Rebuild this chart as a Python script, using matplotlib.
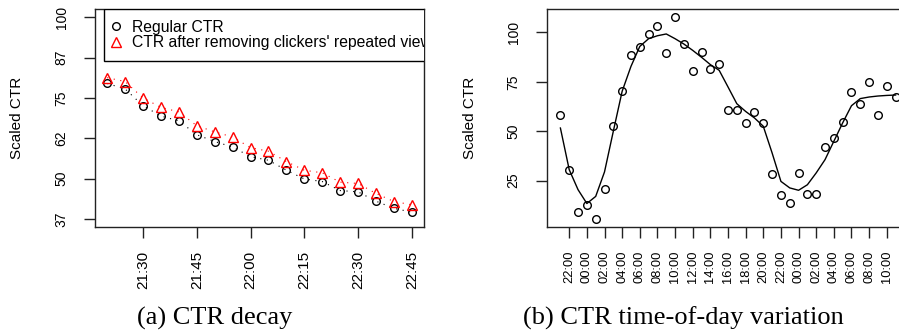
import numpy as np
import matplotlib
matplotlib.use("Agg")
import matplotlib.pyplot as plt

plt.rcParams['font.family'] = ['Liberation Sans', 'DejaVu Sans']

# (a) CTR decay: minutes after 21:00, one sample every 5 minutes
decay_minutes = [20, 25, 30, 35, 40, 45, 50, 55, 60, 65, 70, 75, 80, 85, 90, 95, 100, 105]
regular_ctr = [79.5, 77.8, 72.6, 69.4, 67.9, 63.6, 61.5, 59.8, 56.8, 55.7,
               52.6, 49.9, 49.1, 46.3, 45.9, 43.0, 40.8, 39.6]
removed_ctr = [81.3, 80.1, 75.0, 72.1, 70.7, 66.4, 64.5, 62.9, 59.6, 58.5,
               55.3, 52.6, 51.8, 48.9, 48.5, 45.4, 42.9, 41.9]
decay_ticks = [30, 45, 60, 75, 90, 105]
decay_labels = ['21:30', '21:45', '22:00', '22:15', '22:30', '22:45']
decay_yticks = [37.5, 50, 62.5, 75, 87.5, 100]
decay_ylabels = ['37', '50', '62', '75', '87', '100']

# (b) time-of-day: hours after 22:00 on day one
tod_hours = list(range(-1, 38))
tod_ctr = [58.4, 30.6, 9.3, 12.7, 5.6, 20.9, 52.8, 70.5, 88.4, 92.8,
           99.2, 103.0, 89.6, 107.6, 94.1, 80.6, 89.9, 81.5, 84.0, 60.7,
           60.7, 54.2, 59.7, 54.0, 28.2, 17.7, 13.7, 29.0, 18.1, 18.1,
           42.2, 46.6, 54.6, 69.8, 63.9, 74.7, 58.2, 73.0, 67.5]
tod_smooth = [51.6, 30.5, 20.4, 13.4, 17.0, 29.4, 50.0, 70.2, 82.8, 92.9,
              96.8, 98.3, 99.2, 96.8, 94.1, 90.9, 87.4, 83.7, 80.8, 72.4,
              63.9, 60.0, 56.7, 52.5, 39.0, 24.6, 21.3, 20.1, 22.9, 28.9,
              35.6, 44.9, 54.2, 62.9, 66.5, 67.3, 67.8, 68.1, 68.3]
tod_ticks = list(range(0, 38, 2))
tod_labels = ['22:00', '00:00', '02:00', '04:00', '06:00', '08:00', '10:00',
              '12:00', '14:00', '16:00', '18:00', '20:00', '22:00', '00:00',
              '02:00', '04:00', '06:00', '08:00', '10:00']
tod_yticks = [25, 50, 75, 100]

W, H = 899, 332
fig = plt.figure(figsize=(W / 100, H / 100), dpi=100)


def style_axes(ax):
    for s in ax.spines.values():
        s.set_linewidth(1.0)
        s.set_color('#222222')
    ax.tick_params(axis='both', length=8, width=1.0, color='#222222', pad=9)
    ax.tick_params(axis='y', labelsize=10, labelrotation=90, pad=11)
    for t in ax.get_yticklabels():
        t.set_va('center')


# ---- panel (a) ----
ax1 = fig.add_axes([95 / W, 1 - 227 / H, (424 - 95) / W, (227 - 9.3) / H])
ax1.plot(decay_minutes, regular_ctr, color='black', lw=0.8, linestyle=(0, (1, 5)))
ax1.plot(decay_minutes, removed_ctr, color='red', lw=0.8, linestyle=(0, (1, 5)))
ax1.plot(decay_minutes, regular_ctr, 'o', ms=5.5, mfc='none', mec='black', mew=1.0,
         label='Regular CTR')
ax1.plot(decay_minutes, removed_ctr, '^', ms=6.5, mfc='none', mec='red', mew=1.0,
         label="CTR after removing clickers' repeated views")
ax1.set_xlim(16.6, 108.4)
ax1.set_ylim(35, 102.5)
ax1.set_xticks(decay_ticks)
ax1.set_xticklabels(decay_labels, rotation=90, fontsize=11)
ax1.set_yticks(decay_yticks)
ax1.set_yticklabels(decay_ylabels)
style_axes(ax1)

leg = ax1.legend(loc='upper left', bbox_to_anchor=(9 / 329, 1.0), borderaxespad=0,
                 fontsize=11.3, frameon=True, fancybox=False, framealpha=1,
                 edgecolor='black', handlelength=0.2, handletextpad=0.95,
                 labelspacing=0.05, borderpad=0.66)
leg.get_frame().set_linewidth(1.0)
for a in leg.findobj():
    a.set_clip_box(ax1.bbox)
    a.set_clip_on(True)

fig.text(17 / W, 1 - 118 / H, 'Scaled CTR', rotation=90, ha='center', va='center',
         fontsize=11)

# ---- panel (b) ----
ax2 = fig.add_axes([547 / W, 1 - 227 / H, (909 - 547) / W, (227 - 9.3) / H])
ax2.plot(tod_hours, tod_smooth, color='black', lw=1.0)
ax2.plot(tod_hours, tod_ctr, 'o', ms=5.5, mfc='none', mec='black', mew=1.0)
ax2.set_xlim(-2.52, 38.52)
ax2.set_ylim(1.52, 111.68)
ax2.set_xticks(tod_ticks)
ax2.set_xticklabels(tod_labels, rotation=90, fontsize=9.3)
ax2.set_yticks(tod_yticks)
ax2.set_yticklabels([str(v) for v in tod_yticks])
style_axes(ax2)

fig.text(470 / W, 1 - 118 / H, 'Scaled CTR', rotation=90, ha='center', va='center',
         fontsize=11)

# captions
fig.text(214.5 / W, 1 - 325 / H, '(a) CTR decay', ha='center', va='baseline',
         fontsize=19, family='Liberation Serif')
fig.text(683 / W, 1 - 325 / H, '(b) CTR time-of-day variation', ha='center',
         va='baseline', fontsize=19, family='Liberation Serif')

fig.savefig('out.png', dpi=100)
